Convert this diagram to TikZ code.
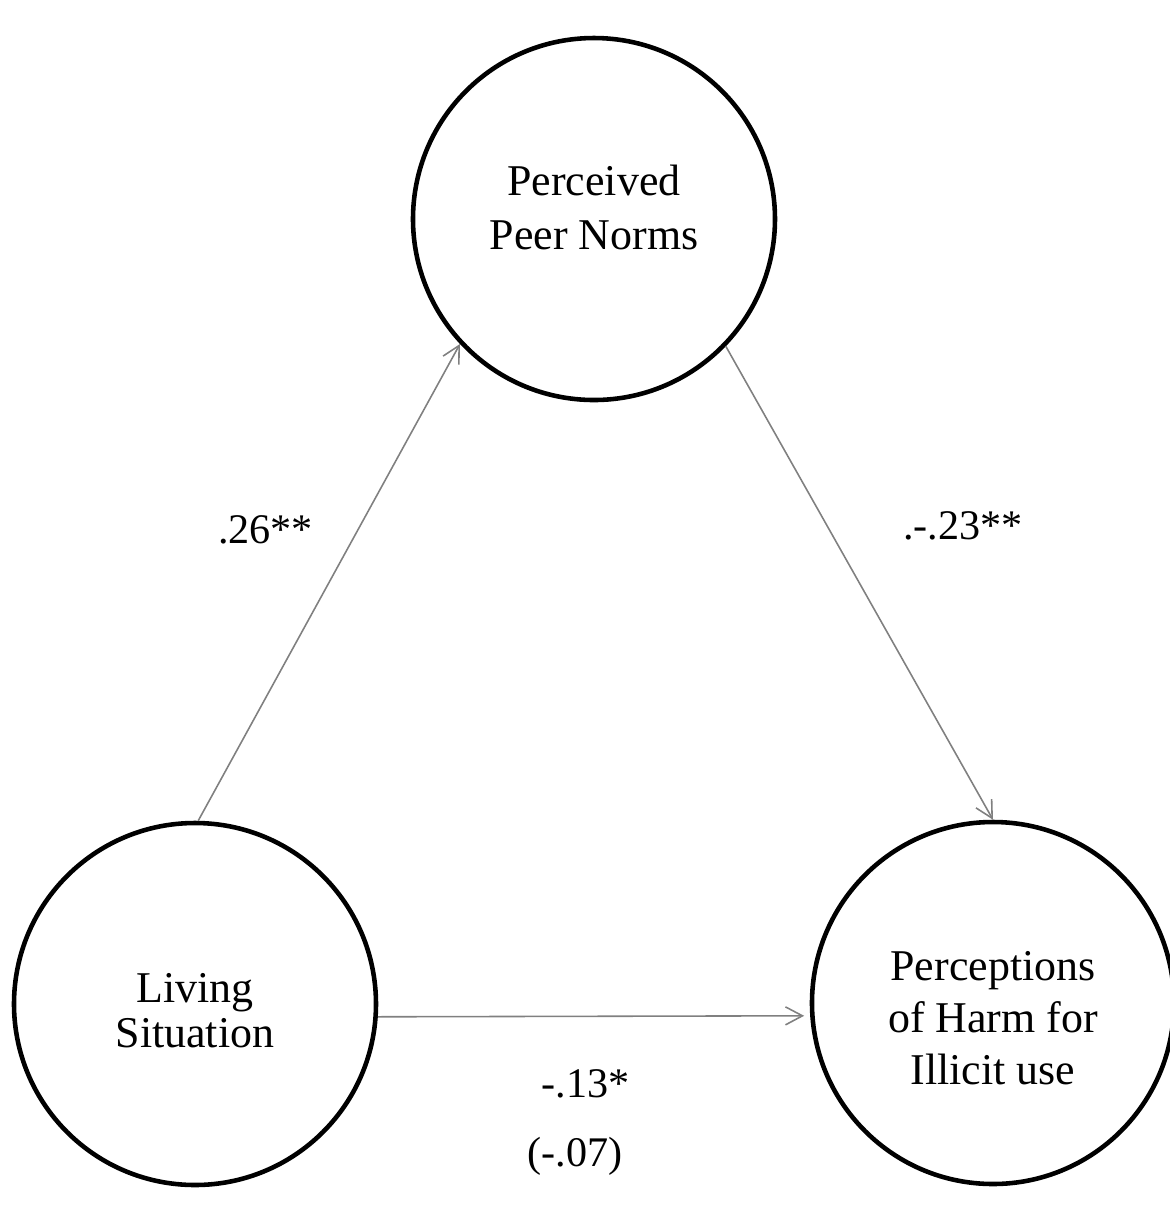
\documentclass[tikz,border=0pt]{standalone}
\usepackage{fontspec}
\setmainfont{Liberation Serif}
\usetikzlibrary{arrows.meta}

\begin{document}
\begin{tikzpicture}[
	var/.style={circle, draw, line width=1.3pt, minimum size=3.62cm, inner sep=0pt, align=center, text depth=0pt},
	effect/.style={draw=black!50, line width=0.45pt, -{Straight Barb[length=1.7mm, width=1.8mm]}},
	coef/.style={inner sep=0pt, font=\fontsize{12}{14}\selectfont}
]
	\useasboundingbox (0,0) rectangle (11.70,-12.08);

	% Define nodes
	\node [var, text height=17.6pt, font=\fontsize{12.5}{15.6}\selectfont] (pn) at (5.94,-2.19) {Perceived\\Peer Norms};
	\node [var, text height=25pt, font=\fontsize{12.5}{12.8}\selectfont] (ls) at (1.95,-10.04) {Living\\Situation};
	\node [var, text height=46.6pt, font=\fontsize{12.5}{14.8}\selectfont] (ph) at (9.93,-10.03) {Perceptions\\of Harm for\\Illicit use};

	% Draw paths and label them
	\draw [effect] (ls.89) -- node[coef, pos=0.61, left=0.44cm] {.26**} (pn.223);
	\draw [effect] (pn.-44.5) -- node[coef, pos=0.38, right=0.75cm] {.-.23**} (ph.90);
	\draw [effect, shorten >=0.6mm] (ls.-4) -- node[coef, pos=0.48, below=0.52cm] {-.13*}
		node[coef, pos=0.456, below=1.2cm] {(-.07)} (ph.184);
\end{tikzpicture}
\end{document}
